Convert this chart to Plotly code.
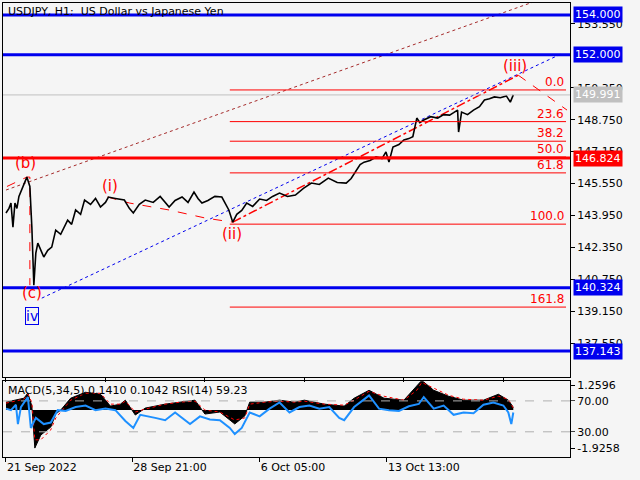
import plotly.graph_objects as go

# USDJPY H1 closes (bar index, price)
bar_idx = [0, 3, 5, 7, 9, 11, 13, 17, 21, 24, 26, 28, 30, 32, 35, 38, 42, 46, 50, 55, 62, 66, 70, 75,
           79, 85, 90, 95, 100, 103, 110, 119, 124, 128, 134, 140, 148, 155, 164, 170, 177, 183, 189,
           193, 197, 203, 210, 217, 224, 228, 232, 237, 242, 248, 255, 262, 268, 275, 283, 291, 299,
           307, 315, 324, 333, 342, 347, 352, 356, 360, 366, 372, 378, 382, 385, 389, 395, 400, 405,
           409, 413, 416, 420, 427, 434, 440, 446, 450, 454, 455, 458, 464, 470, 476, 481, 486, 491,
           497, 503, 507, 510]
close = [144.07, 144.3, 144.57, 143.36, 144.57, 144.3, 144.9, 145.37, 145.87, 145.4, 143.36, 140.45,
         142.06, 142.56, 142.2, 141.86, 142.2, 142.36, 143.21, 143.0, 143.71, 143.5, 144.22, 144.0,
         144.72, 144.5, 144.8, 144.37, 144.6, 144.87, 144.8, 144.72, 144.3, 144.07, 144.5, 144.72,
         144.6, 144.9, 144.37, 144.7, 144.87, 144.6, 145.12, 144.8, 144.57, 144.7, 144.9, 144.87,
         144.22, 143.61, 144.0, 144.2, 144.57, 144.4, 144.77, 144.7, 144.9, 145.07, 144.9, 144.97,
         145.3, 145.57, 145.5, 145.82, 145.6, 145.57, 145.8, 146.22, 146.5, 146.62, 146.7, 146.88,
         146.8, 147.13, 146.62, 147.38, 147.5, 147.73, 147.8, 147.9, 148.83, 148.6, 148.73, 148.9,
         148.83, 149.0, 148.98, 149.1, 149.23, 148.13, 149.13, 149.0, 149.23, 149.4, 149.74, 149.8,
         149.89, 149.85, 149.94, 149.63, 149.99]

last_price = 149.991
blue_levels = [154.0, 152.0, 140.324, 137.143]
red_level = 146.824
price_ticks = [153.55, 150.35, 148.75, 147.15, 145.55, 143.95, 142.35, 140.75, 139.15, 137.55]

fib_high, fib_low = 150.24, 143.51
fib_ratios = [0.0, 23.6, 38.2, 50.0, 61.8, 100.0, 161.8]
fib_x = [225, 563]

# channel lines and wave paths (bar index, price)
blue_chan_x, blue_chan_y = [36, 560], [139.80, 152.09]
red_chan_x, red_chan_y = [0, 530], [145.22, 154.65]
wave_a_x, wave_a_y = [1, 21, 24, 24], [145.4, 145.87, 145.87, 140.45]
wave_i_x, wave_i_y = [102, 124, 164, 201, 228], [144.87, 144.57, 144.22, 143.81, 143.61]
wave_iii_x, wave_iii_y = [228, 515], [143.61, 150.98]
wave_iv_x, wave_iv_y = [515, 564], [150.98, 149.23]

# MACD(5,34,5) and RSI(14)
macd_x = [0, 10, 18, 22, 26, 29, 35, 45, 50, 55, 65, 80, 95, 105, 115, 120, 130, 140, 160, 175, 190, 200,
          215, 230, 240, 245, 260, 275, 290, 300, 320, 340, 350, 365, 380, 400, 413, 418, 430, 445, 460,
          480, 495, 505, 510]
macd = [0.4, 0.5, 0.6, 0.86, 0.2, -1.92, -1.26, -0.86, -0.2, 0.0, 0.6, 0.9, 0.8, 0.2, 0.3, 0.5, -0.25,
        0.1, 0.3, 0.4, 0.5, -0.2, -0.1, -0.7, -0.3, 0.4, 0.4, 0.5, 0.4, 0.5, 0.3, 0.2, 0.6, 1.0, 0.6,
        0.5, 1.2, 1.5, 1.0, 0.7, 0.5, 0.5, 0.8, 0.5, 0.14]
signal = [0.35, 0.45, 0.55, 0.8, 0.4, -1.5, -1.5, -1.0, -0.4, -0.1, 0.5, 0.85, 0.85, 0.3, 0.3, 0.45,
          -0.1, 0.05, 0.3, 0.4, 0.45, 0.0, -0.1, -0.5, -0.4, 0.3, 0.4, 0.45, 0.4, 0.45, 0.3, 0.25, 0.5,
          0.95, 0.7, 0.5, 1.0, 1.4, 1.1, 0.75, 0.55, 0.5, 0.7, 0.55, 0.1]
rsi_x = [0, 5, 10, 12, 15, 22, 25, 30, 38, 45, 52, 60, 70, 80, 90, 100, 110, 120, 128, 135, 150, 160,
         170, 185, 195, 205, 215, 225, 230, 237, 245, 255, 265, 275, 285, 295, 305, 315, 325, 335, 340,
         350, 360, 365, 375, 385, 395, 405, 415, 420, 430, 440, 450, 460, 470, 480, 490, 500, 505, 508,
         510]
rsi = [60, 58, 65, 40, 62, 75, 35, 48, 40, 42, 58, 57, 62, 64, 58, 60, 58, 44, 35, 52, 48, 45, 55, 40,
       50, 46, 45, 35, 27, 35, 55, 50, 60, 68, 55, 62, 64, 60, 62, 48, 45, 62, 72, 77, 60, 58, 57, 63,
       66, 75, 60, 64, 52, 55, 54, 65, 68, 64, 55, 40, 55]

x_tickvals = [0, 127, 255, 383]
x_ticktext = ["21 Sep 2022", "28 Sep 21:00", "6 Oct 05:00", "13 Oct 13:00"]

FONT = "DejaVu Sans"
BLUE = "#0000ee"
RED = "#ff0000"

fig = go.Figure()

dot = dict(dash="dot", width=1)
fig.add_trace(go.Scatter(x=red_chan_x, y=red_chan_y, mode="lines", line=dict(color="#a52a2a", **dot)))
fig.add_trace(go.Scatter(x=blue_chan_x, y=blue_chan_y, mode="lines", line=dict(color=BLUE, **dot)))
for wx, wy in [(wave_a_x, wave_a_y), (wave_i_x, wave_i_y), (wave_iv_x, wave_iv_y)]:
    fig.add_trace(go.Scatter(x=wx, y=wy, mode="lines", line=dict(color=RED, dash="dash", width=1)))
fig.add_trace(go.Scatter(x=wave_iii_x, y=wave_iii_y, mode="lines",
                         line=dict(color=RED, dash="dashdot", width=1.5)))

fig.add_trace(go.Scatter(x=bar_idx, y=close, mode="lines", line=dict(color="black", width=1.6)))

for lvl in blue_levels:
    fig.add_hline(y=lvl, line=dict(color=BLUE, width=3), yref="y")
fig.add_hline(y=red_level, line=dict(color=RED, width=3), yref="y")
fig.add_hline(y=last_price, line=dict(color="#c0c0c0", width=1), yref="y")

for r in fib_ratios:
    lvl = fib_high - (fib_high - fib_low) * r / 100
    fig.add_trace(go.Scatter(x=fib_x, y=[lvl, lvl], mode="lines", line=dict(color=RED, width=1)))
    fig.add_annotation(x=fib_x[1], y=lvl, text=f"{r:.1f}", showarrow=False, xanchor="right",
                       yanchor="bottom", font=dict(color=RED, size=12, family=FONT), yshift=-1)

# MACD panel
fig.add_trace(go.Scatter(x=macd_x, y=macd, mode="lines", fill="tozeroy", fillcolor="black",
                         line=dict(color="black", width=1), xaxis="x2", yaxis="y2"))
fig.add_trace(go.Scatter(x=macd_x, y=signal, mode="lines", line=dict(color=RED, dash="dot", width=1),
                         xaxis="x2", yaxis="y2"))
for lv in [70, 30]:
    fig.add_trace(go.Scatter(x=[-3, 567], y=[lv, lv], mode="lines",
                             line=dict(color="#b0b0b0", dash="dash", width=1), xaxis="x2", yaxis="y3"))
fig.add_trace(go.Scatter(x=rsi_x, y=rsi, mode="lines", line=dict(color="#1e90ff", width=2),
                         xaxis="x2", yaxis="y3"))

# wave labels
for lx, ly, txt in [(20, 146.6, "(b)"), (105, 145.4, "(i)"), (227, 143.0, "(ii)"),
                    (26, 140.05, "(c)"), (512, 151.45, "(iii)")]:
    fig.add_annotation(x=lx, y=ly, text=txt, showarrow=False, font=dict(color=RED, size=15, family=FONT))
fig.add_annotation(x=26, y=138.9, text="iv", showarrow=False, font=dict(color=BLUE, size=14, family=FONT),
                   bordercolor=BLUE, borderwidth=1, borderpad=0)

# price labels on the right
tags = [(v, BLUE) for v in blue_levels] + [(red_level, RED), (last_price, "#c0c0c0")]
for v, c in tags:
    fig.add_annotation(xref="paper", x=1.005, y=v, yref="y", text=f"{v:.3f}", showarrow=False,
                       xanchor="left", bgcolor=c, font=dict(color="white", size=11, family=FONT),
                       borderpad=1)

fig.add_annotation(xref="paper", yref="paper", x=0.005, y=1.0, text="USDJPY, H1:  US Dollar vs Japanese Yen",
                   showarrow=False, xanchor="left", yanchor="top", font=dict(size=11, family=FONT))
fig.add_annotation(xref="paper", yref="paper", x=0.005, y=0.165, text="MACD(5,34,5) 0.1410 0.1042 RSI(14) 59.23",
                   showarrow=False, xanchor="left", yanchor="top", font=dict(size=11, family=FONT))

axis_common = dict(showgrid=False, zeroline=False, showline=True, linecolor="black", mirror=True,
                   ticks="outside", ticklen=4, tickcolor="black", automargin=False)
fig.update_layout(
    width=640, height=480, margin=dict(l=3, r=70, t=3, b=23),
    paper_bgcolor="#f5f5f5", plot_bgcolor="#f5f5f5", showlegend=False,
    font=dict(family=FONT, size=11, color="black"),
    xaxis=dict(range=[-3, 567], domain=[0, 1], showticklabels=False, anchor="y", **axis_common),
    xaxis2=dict(range=[-3, 567], domain=[0, 1], anchor="y2", tickvals=x_tickvals, ticktext=x_ticktext,
                ticklabelposition="outside right", **axis_common),
    yaxis=dict(range=[135.84, 154.60], domain=[0.176, 1], side="right", tickvals=price_ticks,
               tickformat=".3f", anchor="x", **axis_common),
    yaxis2=dict(range=[-2.37, 1.46], domain=[0, 0.167], side="right", tickvals=[1.2596, -1.9258],
                ticktext=["1.2596", "-1.9258"], anchor="x2", **axis_common),
    yaxis3=dict(range=[-2.6, 95.5], overlaying="y2", side="right", tickvals=[70, 30],
                ticktext=["70.00", "30.00"], anchor="x2", showgrid=False, zeroline=False,
                ticks="outside", ticklen=4, automargin=False),
)

# the page body has a default margin; drop it so the chart fills the window
fig.write_html("out.html", config={"displayModeBar": False},
               post_script="document.body.style.margin='0';")
